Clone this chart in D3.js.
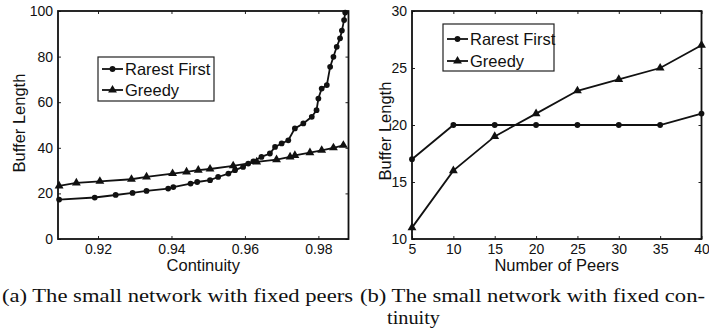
<!DOCTYPE html>
<html>
<head>
<meta charset="utf-8">
<script src="https://cdn.jsdelivr.net/npm/d3@7"></script>
<style>
  html, body { margin: 0; padding: 0; background: #ffffff; }
  svg { display: block; }
  .tick text { font-family: "Liberation Sans", Arial, sans-serif; font-size: 14px; fill: #111; }
  .axis-title { font-family: "Liberation Sans", Arial, sans-serif; font-size: 16.5px; fill: #111; }
  .legend-text { font-family: "Liberation Sans", Arial, sans-serif; font-size: 16.5px; fill: #111; }
  .caption { font-family: "Liberation Serif", "DejaVu Serif", serif; font-size: 19px; fill: #111; }
</style>
</head>
<body>
<svg id="chart" width="709" height="332"></svg>
<script>
// ---- (a) buffer length vs. continuity, fixed peers ----
const rarestContinuity = [0.9094, 0.9191, 0.9248, 0.9294, 0.9332, 0.9391, 0.9405, 0.9452, 0.9470, 0.9505, 0.9527,
  0.9555, 0.9573, 0.9595, 0.9609, 0.9623, 0.9645, 0.9668, 0.9682, 0.9700, 0.9718, 0.9736, 0.9759, 0.9782,
  0.9795, 0.9800, 0.9809, 0.9823, 0.9832, 0.9841, 0.9850, 0.9859, 0.9864, 0.9870, 0.9873];
const rarestBuffer = [17.3, 18.2, 19.3, 20.2, 21.1, 22.1, 22.8, 24.3, 25.0, 25.8, 27.2,
  28.7, 30.2, 31.6, 33.1, 34.1, 36.0, 37.5, 40.4, 41.9, 43.3, 48.5, 50.7, 53.6,
  56.5, 61.6, 66.0, 67.5, 75.5, 79.9, 84.3, 88.0, 91.4, 96.0, 99.3];
const greedyContinuity = [0.9094, 0.9141, 0.9205, 0.9291, 0.9332, 0.9403, 0.9441, 0.9473, 0.9505, 0.9568,
  0.9632, 0.9686, 0.9723, 0.9736, 0.9777, 0.9809, 0.9841, 0.9868];
const greedyBuffer = [23.3, 24.6, 25.3, 26.2, 27.2, 28.7, 29.4, 30.2, 30.7, 32.1,
  33.8, 34.8, 36.0, 36.7, 37.9, 38.9, 40.0, 41.1];
const continuityTicks = [0.92, 0.94, 0.96, 0.98];
const bufferTicksA = [0, 20, 40, 60, 80, 100];

// ---- (b) buffer length vs. number of peers, fixed continuity ----
const peers = [5, 10, 15, 20, 25, 30, 35, 40];
const rarestByPeers = [17, 20, 20, 20, 20, 20, 20, 21];
const greedyByPeers = [11, 16, 19, 21, 23, 24, 25, 27];
const peerTicks = [5, 10, 15, 20, 25, 30, 35, 40];
const bufferTicksB = [10, 15, 20, 25, 30];

const seriesNames = ["Rarest First", "Greedy"];
const captionA = "(a) The small network with fixed peers";
const captionB1 = "(b) The small network with fixed con-";
const captionB2 = "tinuity";

const svg = d3.select("#chart");

function markerPath(kind) {
  return d3.symbol()
    .type(kind === "dot" ? d3.symbolCircle : d3.symbolTriangle)
    .size(kind === "dot" ? 26 : 34)();
}

function panel(opts) {
  const { left, right, top, bottom, xDomain, yDomain, xTicks, yTicks, xTitle, yTitle, yTitleX,
          series, legend } = opts;
  const x = d3.scaleLinear().domain(xDomain).range([left, right]);
  const y = d3.scaleLinear().domain(yDomain).range([bottom, top]);
  const g = svg.append("g");

  // inward ticks on all four sides
  g.append("g").attr("transform", `translate(0,${bottom})`)
    .call(d3.axisBottom(x).tickValues(xTicks).tickSize(-3).tickPadding(5).tickFormat(d3.format(opts.xFormat)))
    .call(s => s.select(".domain").remove());
  g.append("g").attr("transform", `translate(0,${top})`)
    .call(d3.axisTop(x).tickValues(xTicks).tickSize(-3).tickFormat(""))
    .call(s => s.select(".domain").remove());
  g.append("g").attr("transform", `translate(${left},0)`)
    .call(d3.axisLeft(y).tickValues(yTicks).tickSize(-3).tickPadding(5))
    .call(s => s.select(".domain").remove());
  g.append("g").attr("transform", `translate(${right},0)`)
    .call(d3.axisRight(y).tickValues(yTicks).tickSize(-3).tickFormat(""))
    .call(s => s.select(".domain").remove());
  g.selectAll(".tick line").attr("stroke", "#222").attr("stroke-width", 1);

  const line = d3.line().x(d => x(d[0])).y(d => y(d[1]));
  series.forEach(s => {
    const pts = s.xs.map((v, i) => [v, s.ys[i]]);
    g.append("path").datum(pts).attr("d", line)
      .attr("fill", "none").attr("stroke", "#111").attr("stroke-width", 1.8);
    g.selectAll(null).data(pts).enter().append("path")
      .attr("d", markerPath(s.marker))
      .attr("transform", d => `translate(${x(d[0])},${y(d[1])})`)
      .attr("fill", "#111");
  });

  // frame
  g.append("rect").attr("x", left).attr("y", top)
    .attr("width", right - left).attr("height", bottom - top)
    .attr("fill", "none").attr("stroke", "#111").attr("stroke-width", 1.8);

  g.append("text").attr("class", "axis-title")
    .attr("x", (left + right) / 2).attr("y", bottom + 32)
    .attr("text-anchor", "middle").text(xTitle);
  g.append("text").attr("class", "axis-title")
    .attr("transform", `translate(${yTitleX},${opts.yTitleY}) rotate(-90)`)
    .attr("text-anchor", "middle").text(yTitle);

  // legend box
  const lg = g.append("g");
  lg.append("rect").attr("x", legend.x).attr("y", legend.y)
    .attr("width", legend.w).attr("height", legend.h)
    .attr("fill", "#fff").attr("stroke", "#222").attr("stroke-width", 1.2);
  series.forEach((s, i) => {
    const ly = legend.row0 + i * legend.rowGap;
    const lx0 = legend.x + 4, lx1 = legend.x + 25;
    lg.append("line").attr("x1", lx0).attr("x2", lx1).attr("y1", ly).attr("y2", ly)
      .attr("stroke", "#111").attr("stroke-width", 1.8);
    lg.append("path").attr("d", markerPath(s.marker))
      .attr("transform", `translate(${(lx0 + lx1) / 2},${ly})`).attr("fill", "#111");
    lg.append("text").attr("class", "legend-text").attr("x", lx1 + 2).attr("y", ly + 6).text(s.name);
  });
}

panel({
  left: 58, right: 348.5, top: 11, bottom: 239,
  xDomain: [0.9091, 0.9882], yDomain: [0, 100],
  xTicks: continuityTicks, yTicks: bufferTicksA, xFormat: ".2f",
  xTitle: "Continuity", yTitle: "Buffer Length", yTitleX: 25, yTitleY: 123,
  series: [
    { name: seriesNames[0], xs: rarestContinuity, ys: rarestBuffer, marker: "dot" },
    { name: seriesNames[1], xs: greedyContinuity, ys: greedyBuffer, marker: "tri" }
  ],
  legend: { x: 98, y: 57, w: 116, h: 44, row0: 69, rowGap: 21 }
});

panel({
  left: 412, right: 701.5, top: 11, bottom: 239,
  xDomain: [5, 40], yDomain: [10, 30],
  xTicks: peerTicks, yTicks: bufferTicksB, xFormat: "d",
  xTitle: "Number of Peers", yTitle: "Buffer Length", yTitleX: 391, yTitleY: 131,
  series: [
    { name: seriesNames[0], xs: peers, ys: rarestByPeers, marker: "dot" },
    { name: seriesNames[1], xs: peers, ys: greedyByPeers, marker: "tri" }
  ],
  legend: { x: 443, y: 24, w: 111, h: 47, row0: 39, rowGap: 22 }
});

// sub-figure captions
svg.append("text").attr("class", "caption").attr("x", 2).attr("y", 302)
  .attr("textLength", 351).attr("lengthAdjust", "spacingAndGlyphs").text(captionA);
svg.append("text").attr("class", "caption").attr("x", 360).attr("y", 302)
  .attr("textLength", 345).attr("lengthAdjust", "spacingAndGlyphs").text(captionB1);
svg.append("text").attr("class", "caption").attr("x", 387).attr("y", 324)
  .attr("textLength", 53).attr("lengthAdjust", "spacingAndGlyphs").text(captionB2);
</script>
</body>
</html>
